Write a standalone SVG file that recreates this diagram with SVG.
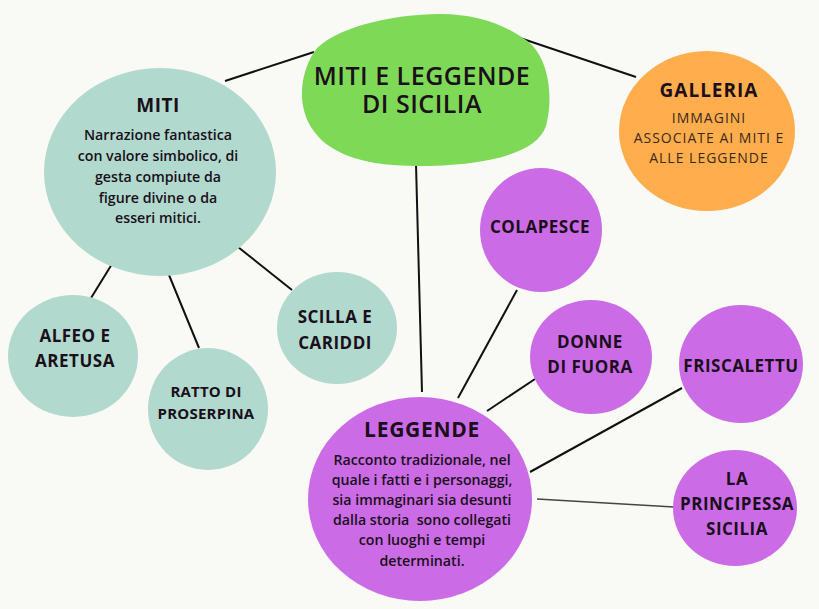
<svg xmlns="http://www.w3.org/2000/svg" width="819" height="609" viewBox="0 0 819 609">
<style>
.bg{fill:#f9f9f6}
.teal{fill:#b1d9cd}
.purple{fill:#cb6ce6}
.orange{fill:#ffad4d}
.green{fill:#7ed957}
.conn line{stroke:#111;stroke-width:2}
.t{font-family:"Open Sans","Noto Sans",sans-serif;fill:#1a0f1a;text-anchor:middle}
.h{font-weight:700}
.b{font-weight:600;font-size:14.2px}
.title{font-size:25px;font-weight:600;letter-spacing:0.5px}
.lbl{font-size:17px;font-weight:700;letter-spacing:0.5px}
.sub{font-size:14px;letter-spacing:1px;fill:#3a2a1a}
</style>
<rect class="bg" x="0" y="0" width="819" height="609"/>
<g id="connectors" class="conn">
<line x1="225" y1="81" x2="314" y2="52"/>
<line x1="517" y1="37" x2="636" y2="77"/>
<line x1="416" y1="164" x2="422" y2="392"/>
<line x1="112" y1="264" x2="91" y2="298"/>
<line x1="169" y1="275" x2="199" y2="348"/>
<line x1="238" y1="247" x2="292" y2="290"/>
<line x1="458" y1="398" x2="517" y2="290"/>
<line x1="487" y1="411" x2="535" y2="379"/>
<line x1="530" y1="472" x2="682" y2="388"/>
<line x1="537" y1="499" x2="674" y2="507" style="stroke:#444;stroke-width:1.3"/>
</g>
<g id="title">
<path class="green" d="M 440 14 C 482 14 512 28 532 45 C 550 64 553 100 546 126 C 536 156 478 166 417 166 C 360 166 326 152 311 127 C 298 106 299 76 314 52 C 332 28 392 14 440 14 Z"/>
<text class="t title" x="422" y="85">MITI E LEGGENDE</text>
<text class="t title" x="422" y="113">DI SICILIA</text>
</g>
<g id="miti">
<ellipse class="teal" cx="160" cy="172" rx="116" ry="104"/>
<text class="t h" x="158" y="112" font-size="19" letter-spacing="0.5">MITI</text>
<text class="t b" x="158" y="140">Narrazione fantastica</text>
<text class="t b" x="158" y="161">con valore simbolico, di</text>
<text class="t b" x="158" y="182">gesta compiute da</text>
<text class="t b" x="158" y="203">figure divine o da</text>
<text class="t b" x="158" y="223">esseri mitici.</text>
</g>
<g id="galleria">
<ellipse class="orange" cx="707" cy="131" rx="88" ry="80"/>
<text class="t h" x="709" y="97" font-size="19" letter-spacing="1">GALLERIA</text>
<text class="t sub" x="709" y="123">IMMAGINI</text>
<text class="t sub" x="709" y="143">ASSOCIATE AI MITI E</text>
<text class="t sub" x="709" y="163">ALLE LEGGENDE</text>
</g>
<g id="alfeo">
<ellipse class="teal" cx="73" cy="356" rx="65" ry="61"/>
<text class="t lbl" x="75" y="342">ALFEO E</text>
<text class="t lbl" x="75" y="367">ARETUSA</text>
</g>
<g id="ratto">
<ellipse class="teal" cx="208" cy="409" rx="60" ry="61"/>
<text class="t h" x="206" y="397" font-size="15" letter-spacing="0.2">RATTO DI</text>
<text class="t h" x="206" y="419" font-size="15" letter-spacing="0.2">PROSERPINA</text>
</g>
<g id="scilla">
<ellipse class="teal" cx="337" cy="328" rx="60" ry="56"/>
<text class="t lbl" x="335" y="323">SCILLA E</text>
<text class="t lbl" x="335" y="349">CARIDDI</text>
</g>
<g id="leggende">
<ellipse class="purple" cx="420" cy="499" rx="112" ry="102"/>
<text class="t h" x="422" y="437" font-size="21" letter-spacing="0.7">LEGGENDE</text>
<text class="t b" x="422" y="465">Racconto tradizionale, nel</text>
<text class="t b" x="422" y="485">quale i fatti e i personaggi,</text>
<text class="t b" x="422" y="505">sia immaginari sia desunti</text>
<text class="t b" x="422" y="525" xml:space="preserve">dalla storia  sono collegati</text>
<text class="t b" x="422" y="545">con luoghi e tempi</text>
<text class="t b" x="422" y="566">determinati.</text>
</g>
<g id="colapesce">
<ellipse class="purple" cx="541" cy="230" rx="61" ry="62"/>
<text class="t lbl" x="540" y="233">COLAPESCE</text>
</g>
<g id="donne">
<ellipse class="purple" cx="591" cy="357" rx="61" ry="57"/>
<text class="t lbl" x="590" y="348">DONNE</text>
<text class="t lbl" x="590" y="373">DI FUORA</text>
</g>
<g id="friscalettu">
<ellipse class="purple" cx="741" cy="364" rx="62" ry="59"/>
<text class="t lbl" x="741" y="372" letter-spacing="0.2">FRISCALETTU</text>
</g>
<g id="principessa">
<ellipse class="purple" cx="735" cy="508" rx="62" ry="58"/>
<text class="t lbl" x="737" y="485">LA</text>
<text class="t lbl" x="737" y="510">PRINCIPESSA</text>
<text class="t lbl" x="737" y="535">SICILIA</text>
</g>
</svg>
